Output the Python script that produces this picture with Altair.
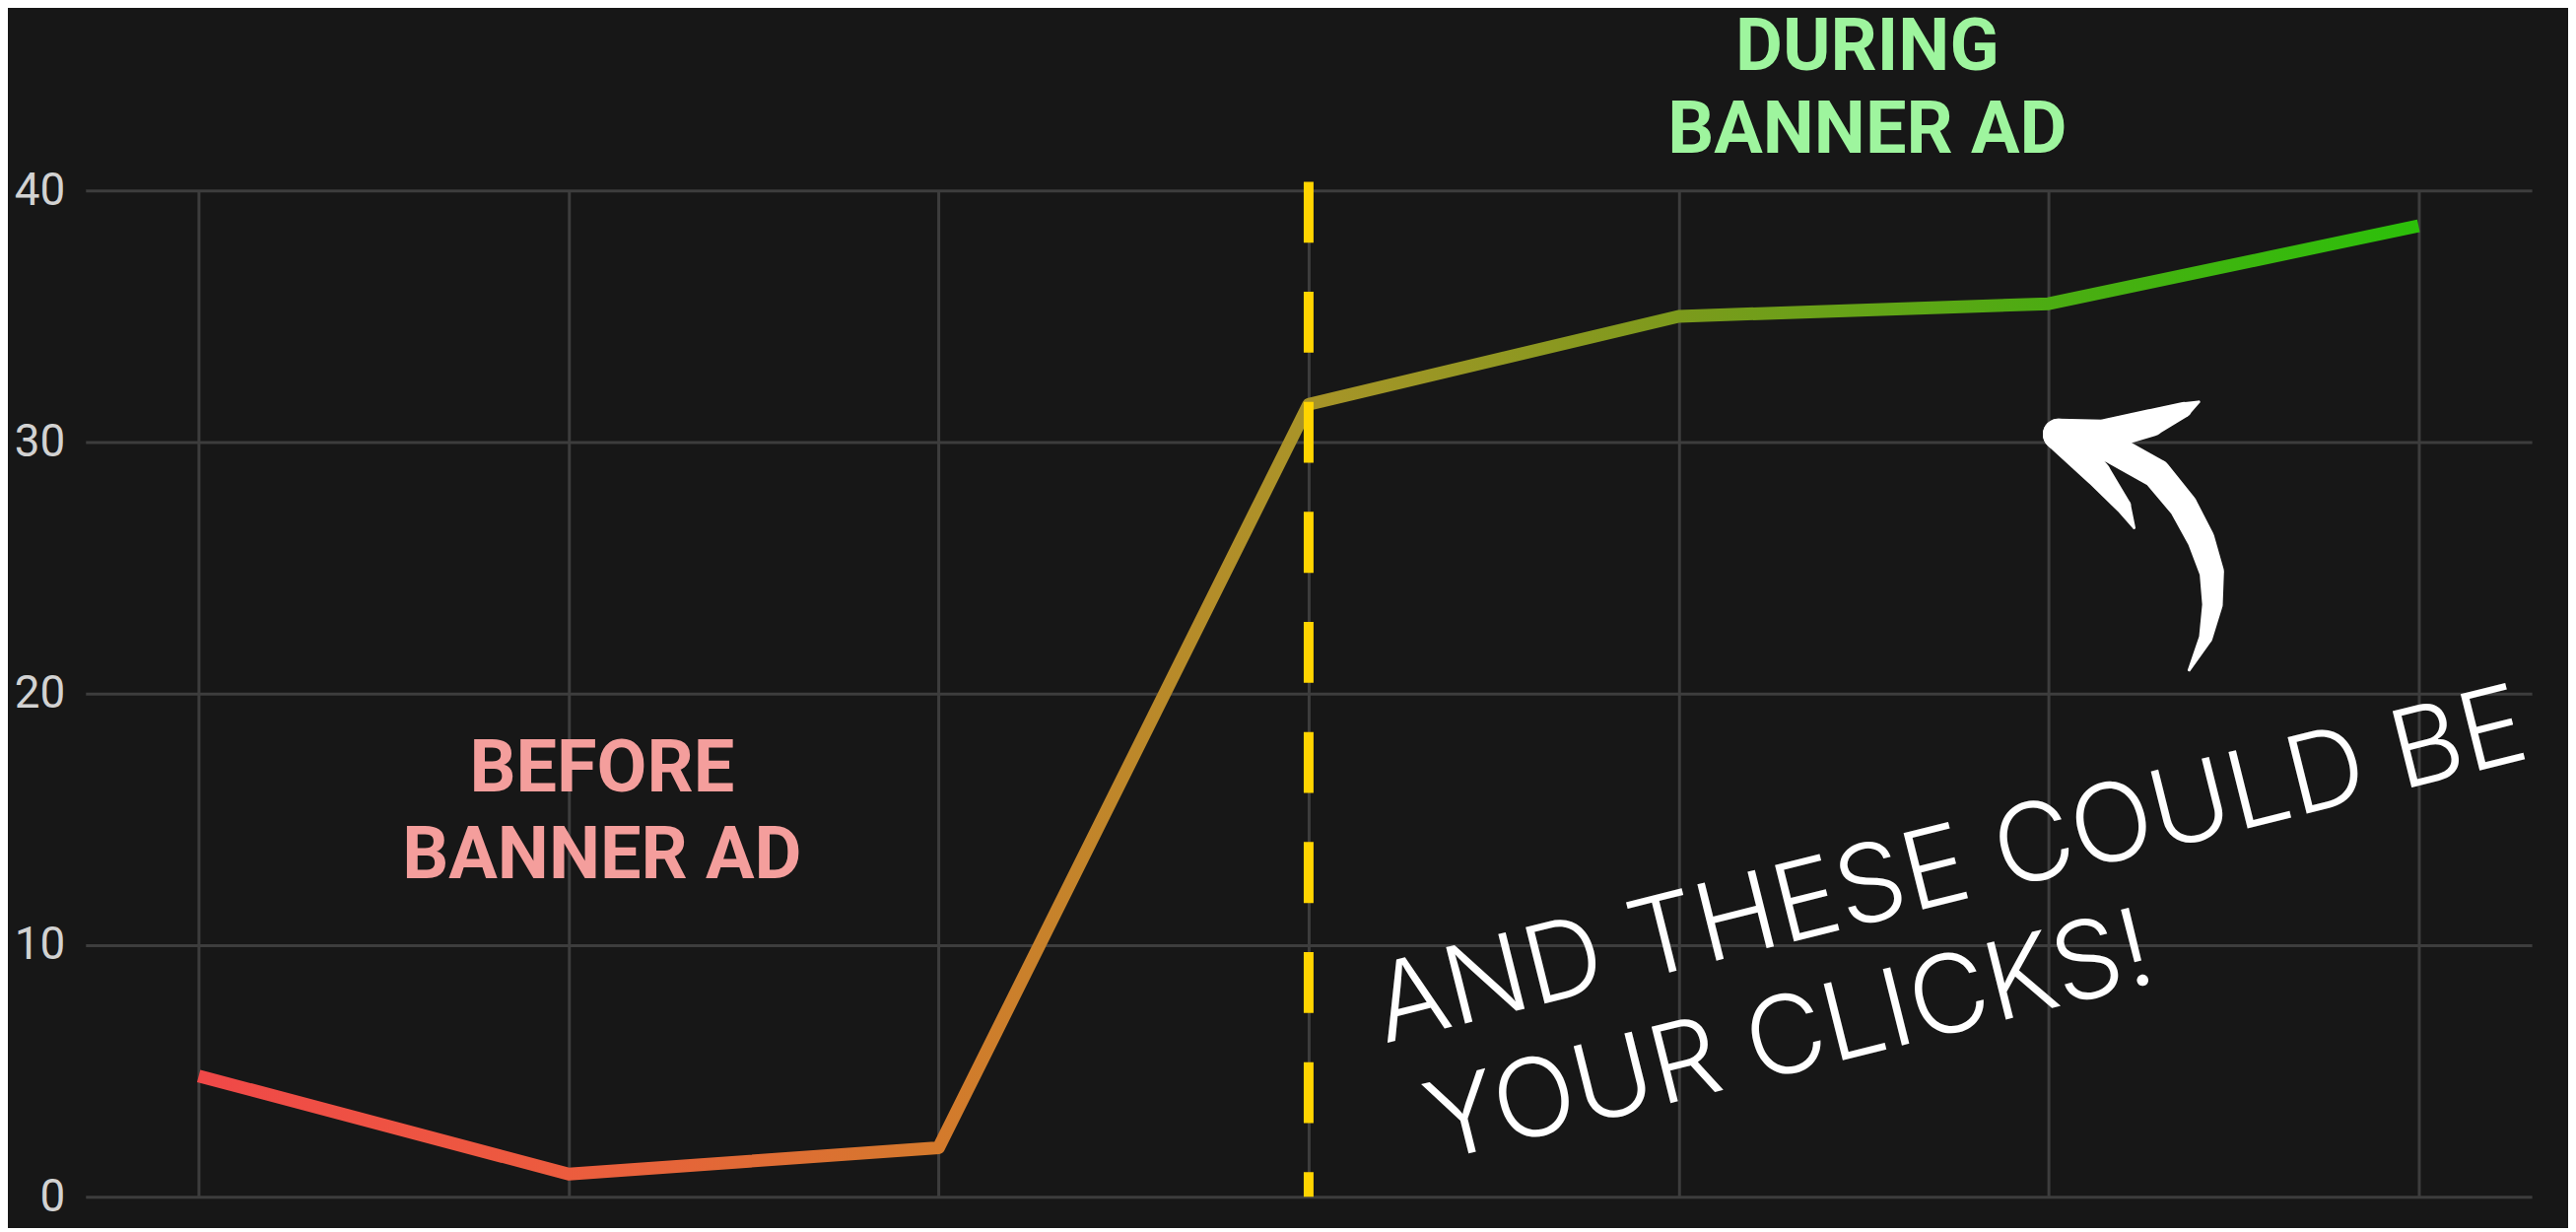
import pandas as pd
import altair as alt

# Clicks per period (x = period index)
periods = [0, 1, 2, 3, 4, 5, 6]
clicks = [4.8, 0.9, 1.95, 31.5, 35.0, 35.5, 38.6]
y_ticks = [0, 10, 20, 30, 40]

# line colour runs red -> orange -> olive -> green
grad_offsets = [0, 1 / 6, 2 / 6, 3 / 6, 4 / 6, 5 / 6, 1]
grad_colors = ["#f04848", "#ec5c3e", "#d47a2c", "#a89428", "#7c9a1c", "#4cac12", "#2cc00a"]

# banner ad start marker
banner_period = [3]
banner_top = [40.35]
banner_bottom = [0]

# annotations (y = baseline position)
before_text = ["BEFORE", "BANNER AD"]
before_x = [1.09, 1.09]
before_y = [16.13, 12.66]

during_text = ["DURING", "BANNER AD"]
during_x = [4.51, 4.51]
during_y = [44.8, 41.5]

note_text = ["AND THESE COULD BE", "YOUR CLICKS!"]
note_x = [3.205, 3.348]
note_y = [6.09, 1.41]

# hand drawn arrow: shaft + two barbs
arrow_part = ["shaft"] * 9 + ["upper"] * 6 + ["lower"] * 5
arrow_seq = list(range(9)) + list(range(6)) + list(range(5))
arrow_x = [5.119, 5.173, 5.292, 5.364, 5.412, 5.441, 5.443, 5.425, 5.380,
           5.008, 5.027, 5.146, 5.279, 5.366, 5.406,
           5.008, 5.027, 5.133, 5.202, 5.231]
arrow_y = [30.0, 29.73, 28.75, 27.46, 26.13, 24.84, 23.55, 22.23, 20.94,
           30.59, 30.31, 30.27, 30.78, 31.29, 31.60,
           30.59, 30.31, 28.75, 27.46, 26.60]
arrow_w = [30, 30, 30, 29, 28, 25, 21, 14, 3,
           6, 32, 32, 28, 16, 3,
           6, 32, 27, 16, 3]

BG = "#171717"
GRID = "#3d3d3d"

x_scale = alt.Scale(domain=[-0.306, 6.306], nice=False, zero=False)
y_scale = alt.Scale(domain=[0, 40], nice=False)

x_axis = alt.Axis(values=periods, grid=True, labels=False, ticks=False,
                  domain=False, title=None, gridColor=GRID, gridWidth=3)
y_axis = alt.Axis(values=y_ticks, grid=True, ticks=False, domain=False,
                  title=None, gridColor=GRID, gridWidth=3,
                  labelFont="Roboto", labelFontSize=46, labelColor="#d2d2d2",
                  labelPadding=21)


def xenc(field="x"):
    return alt.X(f"{field}:Q", scale=x_scale, axis=x_axis)


def yenc(field="y"):
    return alt.Y(f"{field}:Q", scale=y_scale, axis=y_axis)


line_df = pd.DataFrame({"x": periods, "y": clicks})

gradient = alt.Gradient(
    gradient="linear",
    stops=[alt.GradientStop(color=c, offset=o) for c, o in zip(grad_colors, grad_offsets)],
    x1=0, x2=1, y1=0, y2=0,
)

line = alt.Chart(line_df).mark_line(
    color=gradient, strokeWidth=13, strokeJoin="round"
).encode(x=xenc(), y=yenc())

banner_df = pd.DataFrame({"x": banner_period, "y": banner_top, "y2": banner_bottom})
banner = alt.Chart(banner_df).mark_rule(
    color="#ffd400", strokeWidth=10, strokeDash=[62, 50]
).encode(x=xenc(), y=yenc(), y2="y2:Q")


def label_layer(texts, xs, ys, color, **kw):
    df = pd.DataFrame({"x": xs, "y": ys, "t": texts})
    return alt.Chart(df).mark_text(color=color, **kw).encode(
        x=xenc(), y=yenc(), text="t:N"
    )


before = label_layer(before_text, before_x, before_y, "#f49e9c",
                     font="Roboto", fontSize=74, fontWeight="bold",
                     align="center", baseline="alphabetic")
during = label_layer(during_text, during_x, during_y, "#9ef59e",
                     font="Roboto", fontSize=74, fontWeight="bold",
                     align="center", baseline="alphabetic")
note = label_layer(note_text, note_x, note_y, "#ffffff",
                   font="Inter", fontSize=110, fontWeight=300,
                   align="left", baseline="alphabetic", angle=346)

arrow_df = pd.DataFrame({"x": arrow_x, "y": arrow_y, "w": arrow_w,
                         "part": arrow_part, "seq": arrow_seq})
arrow = alt.Chart(arrow_df).mark_trail(color="#ffffff").encode(
    x=xenc(), y=yenc(),
    size=alt.Size("w:Q", scale=None, legend=None),
    detail="part:N",
    order="seq:Q",
)

chart = alt.layer(line, banner, before, during, note, arrow).properties(
    width=2490,
    height=1024,
    background=BG,
    autosize=alt.AutoSizeParams(type="none"),
    padding={"left": 79, "top": 184, "right": 37, "bottom": 30},
).configure_view(strokeWidth=0)

chart.save("out.html", embed_options={"renderer": "svg", "actions": False})
